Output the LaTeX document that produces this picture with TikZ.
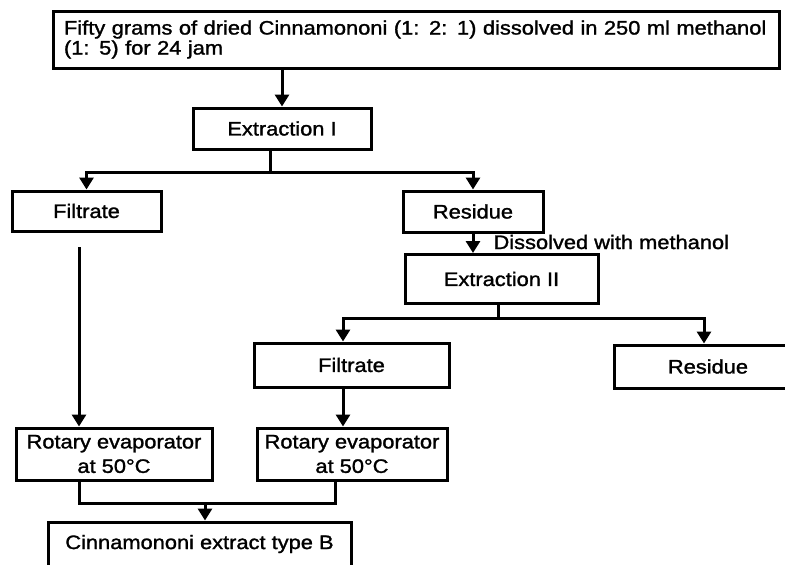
\documentclass[tikz,border=0pt]{standalone}
\usepackage{fontspec}
\setmainfont[FakeStretch=1.12, FakeBold=1.4]{Liberation Sans}
\usepackage{tikz}
\usetikzlibrary{arrows.meta}

\begin{document}
\begin{tikzpicture}[x=1pt, y=-1pt,
every node/.style = {font=\fontsize{19.5}{20}\selectfont},
  box/.style = {draw, line width=3pt, inner sep=0pt},
  line/.style = {line width=3pt},
  arr/.style = {line width=3pt, -{Triangle[width=14pt,length=12pt]}}
]
\clip (0,0) rectangle (785,565);
\fill[white] (0,0) rectangle (785,565);

\node[box, minimum width=726pt, minimum height=57pt, text width=704pt, align=left] (start) at (416,39.5)
    {Fifty grams of dried Cinnamononi (1: 2: 1) dissolved in 250 ml methanol\\(1: 5) for 24 jam};
\node[box, minimum width=178pt, minimum height=41pt] (ext1) at (282,128.5) {Extraction I};
\node[box, minimum width=149pt, minimum height=40pt] (fil1) at (86.5,211) {Filtrate};
\node[box, minimum width=140pt, minimum height=41pt] (res1) at (473,211.5) {Residue};
\node[anchor=base west] (solv) at (490,249) {Dissolved with methanol};
\node[box, minimum width=193pt, minimum height=49pt] (ext2) at (501.5,279) {Extraction II};
\node[box, minimum width=195pt, minimum height=44pt] (fil2) at (351.5,365) {Filtrate};
\node[box, minimum width=188pt, minimum height=43pt] (res2) at (708,366.5) {Residue};
\node[box, minimum width=196pt, minimum height=52pt, align=center,
    font=\fontsize{19.5}{24.5}\selectfont] (rot1) at (114,454) {Rotary evaporator\\at 50°C};
\node[box, minimum width=190pt, minimum height=52pt, align=center,
    font=\fontsize{19.5}{24.5}\selectfont] (rot2) at (352,454) {Rotary evaporator\\at 50°C};
\node[box, minimum width=303pt, minimum height=44pt] (prod) at (199.5,544) {Cinnamononi extract type B};

% split points
\coordinate (split1) at (270,172);
\coordinate (gap1) at (79,247);
\coordinate (split2) at (498,318);
\coordinate (left2) at (343,318);
\coordinate (right2) at (704,318);
\coordinate (join) at (205,503);
\coordinate (join2) at (335,503);

\draw[arr] (ext1.north |- start.south) -- (ext1.north);
\draw[line] (split1 |- ext1.south) -- (split1);
\draw[arr] (split1) -| (fil1);
\draw[arr] (split1) -| (res1);
\draw[arr] (res1) -- (res1.south |- ext2.north);
\draw[arr] (gap1) -- (gap1 |- rot1.north);
\draw[line] (split2 |- ext2.south) -- (split2);
\draw[arr] (split2) -- (left2) -- (left2 |- fil2.north);
\draw[arr] (split2) -- (right2) -- (right2 |- res2.north);
\draw[arr] (left2 |- fil2.south) -- (left2 |- rot2.north);
\draw[line] (gap1 |- rot1.south) |- (join2) -- (join2 |- rot2.south);
\draw[arr] (join) -- (join |- prod.north);
\end{tikzpicture}
\end{document}
